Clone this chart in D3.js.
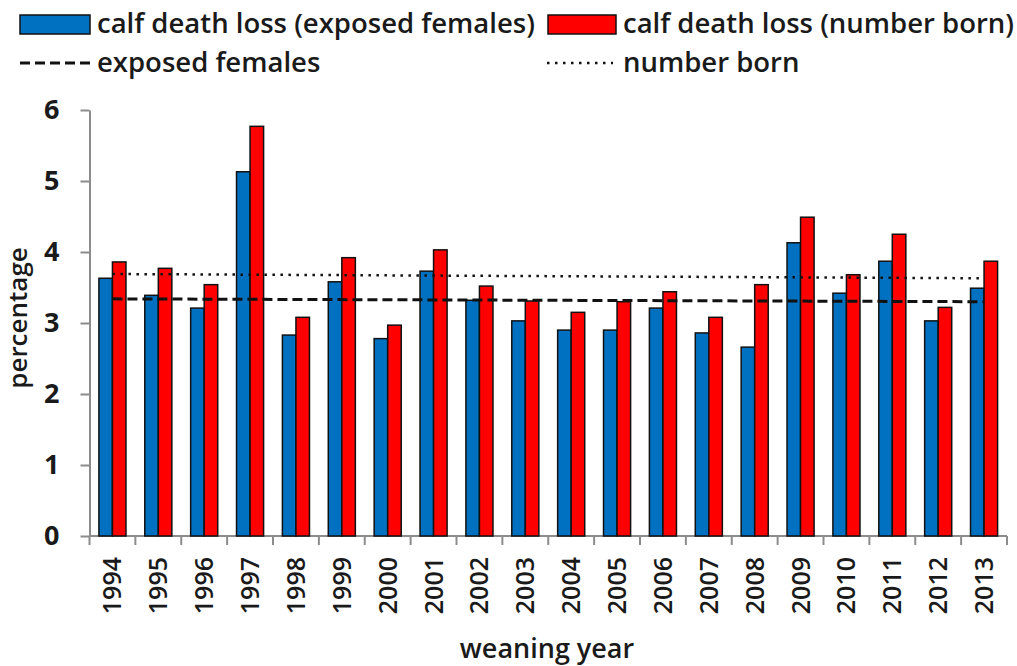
<!DOCTYPE html>
<html>
<head>
<meta charset="utf-8">
<script src="https://cdn.jsdelivr.net/npm/d3@7.9.0/dist/d3.min.js"></script>
<style>
  body { margin: 0; background: #fff; }
  svg text { font-family: "Open Sans", "DejaVu Sans", sans-serif; fill: #1a1a1a; }
</style>
</head>
<body>
<svg id="chart" width="1017" height="666"></svg>
<script>
// weaning years
const years = ['1994','1995','1996','1997','1998','1999','2000','2001','2002','2003',
               '2004','2005','2006','2007','2008','2009','2010','2011','2012','2013'];
// calf death loss, % of exposed females
const exposedFemales = [3.63,3.39,3.21,5.13,2.83,3.58,2.78,3.73,3.32,3.03,
                        2.90,2.90,3.21,2.86,2.66,4.13,3.42,3.87,3.03,3.49];
// calf death loss, % of number born
const numberBorn = [3.86,3.77,3.54,5.77,3.08,3.92,2.97,4.03,3.52,3.31,
                    3.15,3.30,3.44,3.08,3.54,4.49,3.68,4.25,3.22,3.87];
// trend lines, value at first and last year
const trendExposed = [3.34, 3.30];
const trendBorn = [3.69, 3.63];
const yTicks = [0, 1, 2, 3, 4, 5, 6];

const svg = d3.select('#chart');
const plotLeft = 89.5, plotRight = 1007, plotTop = 110, plotBottom = 536;

let x = d3.scaleBand().domain(years).range([plotLeft, plotRight])
  .paddingInner(0.41).paddingOuter(0.205);
let x1 = d3.scaleBand().domain(['exp', 'born']).range([0, x.bandwidth()]);
let y = d3.scaleLinear().domain([0, 6]).range([plotBottom, plotTop]);

const colors = { exp: '#0070C0', born: '#FF0000' };

// y axis
let yAxis = svg.append('g')
  .attr('transform', `translate(${plotLeft},0)`)
  .call(d3.axisLeft(y).tickValues(yTicks).tickFormat(d3.format('d'))
    .tickSize(9).tickPadding(21).tickSizeOuter(0));
yAxis.select('.domain').attr('stroke', '#8c8c8c').attr('stroke-width', 2);
yAxis.selectAll('.tick line').attr('stroke', '#8c8c8c').attr('stroke-width', 2);
yAxis.selectAll('.tick text')
  .attr('font-size', 27).attr('font-weight', 'bold').attr('fill', '#1a1a1a')
  .style('font-family', '"Open Sans", sans-serif');

// x axis line + boundary ticks
svg.append('line')
  .attr('x1', plotLeft).attr('x2', plotRight).attr('y1', plotBottom).attr('y2', plotBottom)
  .attr('stroke', '#8c8c8c').attr('stroke-width', 2);
let bounds = years.map(d => x(d) - x.step() * 0.205).concat([plotRight]);
svg.selectAll('.xtick').data(bounds).join('line')
  .attr('x1', d => d).attr('x2', d => d)
  .attr('y1', plotBottom).attr('y2', plotBottom + 9)
  .attr('stroke', '#8c8c8c').attr('stroke-width', 2);

// year labels
svg.selectAll('.ylab').data(years).join('text')
  .attr('transform', d => `translate(${x(d) + x.bandwidth() / 2 + 9},${plotBottom + 21}) rotate(-90)`)
  .attr('text-anchor', 'end')
  .attr('font-size', 25).attr('font-weight', 600)
  .text(d => d);

// bars
let groups = svg.selectAll('.grp').data(years).join('g')
  .attr('transform', d => `translate(${x(d)},0)`);
groups.append('rect')
  .attr('x', x1('exp')).attr('width', x1.bandwidth())
  .attr('y', (d, i) => y(exposedFemales[i]))
  .attr('height', (d, i) => plotBottom - y(exposedFemales[i]))
  .attr('fill', colors.exp).attr('stroke', '#111').attr('stroke-width', 1.5);
groups.append('rect')
  .attr('x', x1('born')).attr('width', x1.bandwidth())
  .attr('y', (d, i) => y(numberBorn[i]))
  .attr('height', (d, i) => plotBottom - y(numberBorn[i]))
  .attr('fill', colors.born).attr('stroke', '#111').attr('stroke-width', 1.5);

// trend lines
const xFirst = x(years[0]) + x.bandwidth() / 2;
const xLast = x(years[years.length - 1]) + x.bandwidth() / 2;
svg.append('line')
  .attr('x1', xFirst).attr('x2', xLast)
  .attr('y1', y(trendBorn[0])).attr('y2', y(trendBorn[1]))
  .attr('stroke', '#111').attr('stroke-width', 2.5).attr('stroke-dasharray', '2.5,5.5');
svg.append('line')
  .attr('x1', xFirst).attr('x2', xLast)
  .attr('y1', y(trendExposed[0])).attr('y2', y(trendExposed[1]))
  .attr('stroke', '#111').attr('stroke-width', 3).attr('stroke-dasharray', '10,5');

// axis titles
svg.append('text')
  .attr('transform', `translate(27,318) rotate(-90)`)
  .attr('text-anchor', 'middle').attr('font-size', 26).attr('font-weight', 600)
  .text('percentage');
svg.append('text')
  .attr('x', 547).attr('y', 658)
  .attr('text-anchor', 'middle').attr('font-size', 27).attr('font-weight', 600)
  .text('weaning year');

// legend
const legendFont = 27.5;
let legend = svg.append('g');
legend.append('rect').attr('x', 20).attr('y', 15).attr('width', 70).attr('height', 19)
  .attr('fill', colors.exp).attr('stroke', '#111').attr('stroke-width', 1.5);
legend.append('text').attr('x', 97).attr('y', 33).attr('font-size', legendFont).attr('font-weight', 600)
  .text('calf death loss (exposed females)');
legend.append('rect').attr('x', 548).attr('y', 15).attr('width', 68).attr('height', 19)
  .attr('fill', colors.born).attr('stroke', '#111').attr('stroke-width', 1.5);
legend.append('text').attr('x', 623).attr('y', 33).attr('font-size', legendFont).attr('font-weight', 600)
  .text('calf death loss (number born)');
legend.append('line').attr('x1', 20).attr('x2', 90).attr('y1', 63).attr('y2', 63)
  .attr('stroke', '#111').attr('stroke-width', 3).attr('stroke-dasharray', '10,5');
legend.append('text').attr('x', 97).attr('y', 72).attr('font-size', legendFont).attr('font-weight', 600)
  .text('exposed females');
legend.append('line').attr('x1', 547).attr('x2', 613).attr('y1', 63).attr('y2', 63)
  .attr('stroke', '#111').attr('stroke-width', 2.5).attr('stroke-dasharray', '2.5,5.5');
legend.append('text').attr('x', 623).attr('y', 72).attr('font-size', legendFont).attr('font-weight', 600)
  .text('number born');
</script>
</body>
</html>
